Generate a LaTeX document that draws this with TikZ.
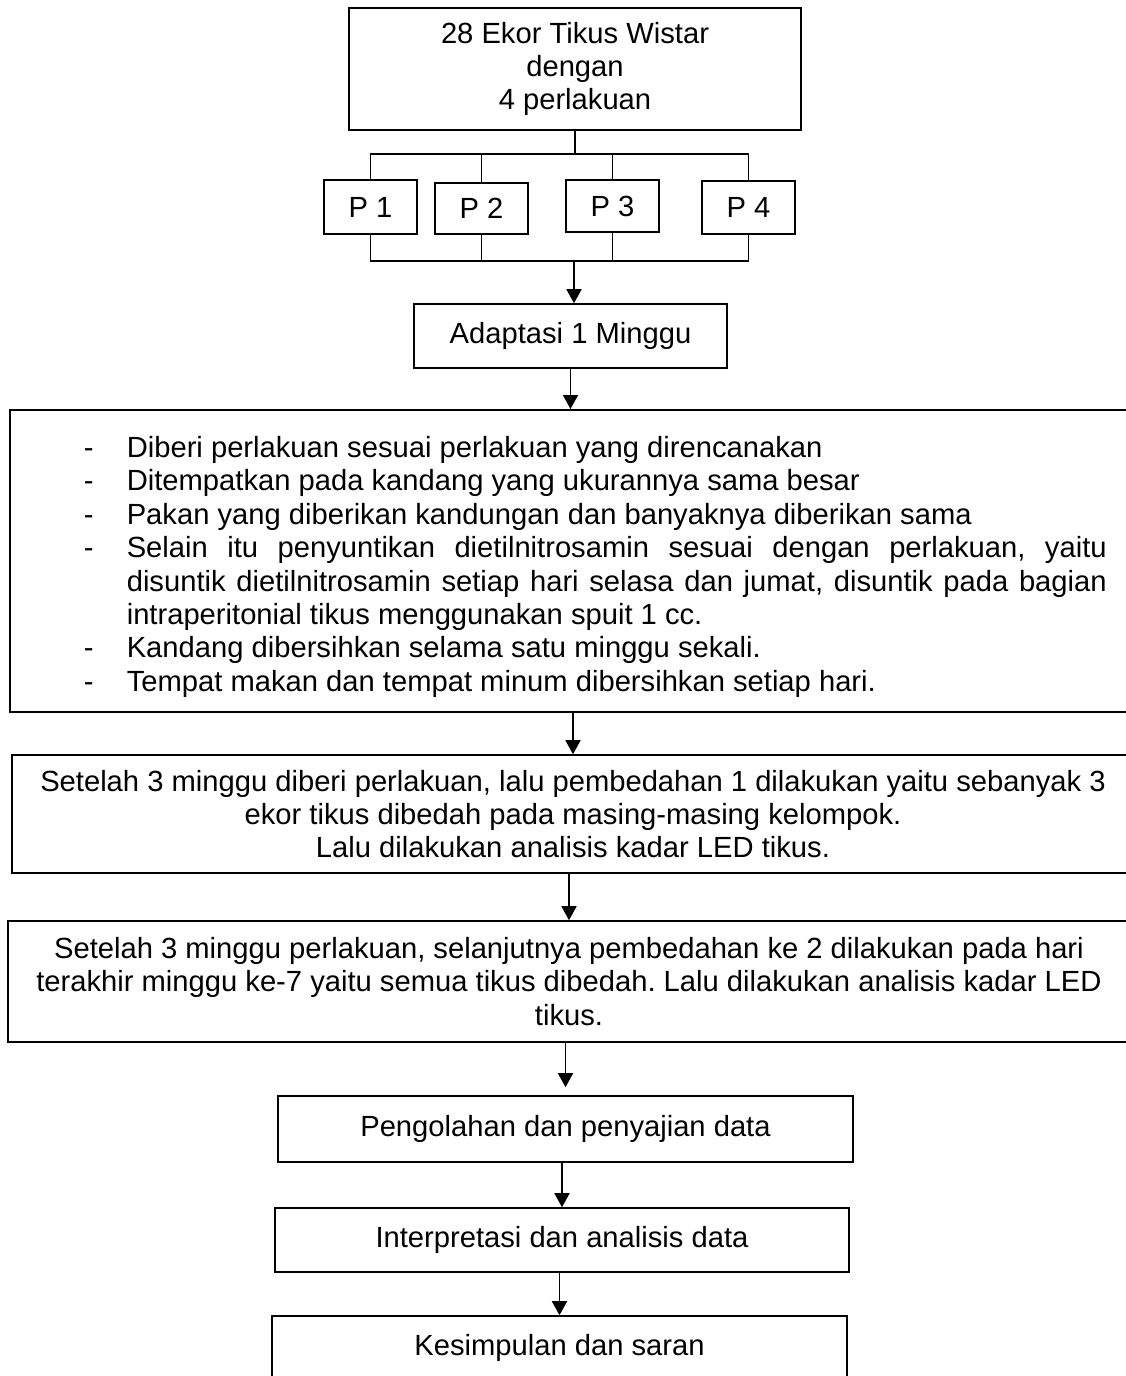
\documentclass[tikz,border=0pt]{standalone}
\usepackage{fontspec}
\setmainfont{Liberation Sans}
\usetikzlibrary{arrows.meta}

\newcommand{\butir}[1]{\par\hangindent=0.43cm\hangafter=1\noindent\makebox[0.43cm][l]{-}#1}

\begin{document}
\frenchspacing
\begin{tikzpicture}[
    kotak/.style={draw, line width=0.45pt, align=center, inner sep=0pt,
      font=\fontsize{8.3pt}{9.5pt}\selectfont\frenchspacing},
    garis/.style={line width=0.45pt},
    panah/.style={line width=0.45pt, -{Triangle[length=0.14cm,width=0.15cm]}}
  ]
  \useasboundingbox (0,0) rectangle (11.26,-13.76);

  % atas
  \node[kotak, minimum width=4.52cm, minimum height=1.22cm] (tikus) at (5.75,-0.69)
    {28 Ekor Tikus Wistar\\dengan\\4 perlakuan};

  % perlakuan
  \node[kotak, minimum width=0.93cm, minimum height=0.54cm] (p1) at (3.705,-2.07) {P 1};
  \node[kotak, minimum width=0.93cm, minimum height=0.51cm] (p2) at (4.815,-2.085) {P 2};
  \node[kotak, minimum width=0.93cm, minimum height=0.52cm] (p3) at (6.125,-2.06) {P 3};
  \node[kotak, minimum width=0.93cm, minimum height=0.53cm] (p4) at (7.485,-2.075) {P 4};

  \coordinate (bagi) at (5.74,-1.54);
  \coordinate (gabung) at (5.74,-2.61);

  \draw[garis] (tikus.south) -- (tikus.south |- bagi);
  \draw[garis] (p1.north) |- (bagi) -| (p4.north);
  \draw[garis] (p2.north) -- (p2.north |- bagi);
  \draw[garis] (p3.north) -- (p3.north |- bagi);
  \draw[garis] (p1.south) |- (gabung) -| (p4.south);
  \draw[garis] (p2.south) -- (p2.south |- gabung);
  \draw[garis] (p3.south) -- (p3.south |- gabung);

  % adaptasi
  \node[kotak, minimum width=3.13cm, minimum height=0.64cm] (adapt) at (5.705,-3.36)
    {Adaptasi 1 Minggu};
  \draw[panah] (gabung) -- (gabung |- adapt.north);

  % perlakuan harian
  \node[kotak, anchor=north west, align=justify, text width=10.23cm, inner xsep=0.74cm,
    minimum height=3.02cm] (rawat) at (0.09,-4.09) {%
    \butir{Diberi perlakuan sesuai perlakuan yang direncanakan}
    \butir{Ditempatkan pada kandang yang ukurannya sama besar}
    \butir{Pakan yang diberikan kandungan dan banyaknya diberikan sama}
    \butir{Selain itu penyuntikan dietilnitrosamin sesuai dengan perlakuan, yaitu\linebreak
      disuntik dietilnitrosamin setiap hari selasa dan jumat, disuntik pada bagian\linebreak
      intraperitonial tikus menggunakan spuit 1 cc.}
    \butir{Kandang dibersihkan selama satu minggu sekali.}
    \butir{Tempat makan dan tempat minum dibersihkan setiap hari.}\par};
  \draw[panah] (adapt.south) -- (adapt.south |- rawat.north);

  % pembedahan 1
  \node[kotak, minimum width=11.22cm, minimum height=1.18cm] (bedah1) at (5.73,-8.14)
    {Setelah 3 minggu diberi perlakuan, lalu pembedahan 1 dilakukan yaitu sebanyak 3\\
     ekor tikus dibedah pada masing-masing kelompok.\\
     Lalu dilakukan analisis kadar LED tikus.};
  \draw[panah] (bedah1.north |- rawat.south) -- (bedah1.north);

  % pembedahan 2
  \node[kotak, minimum width=11.22cm, minimum height=1.21cm] (bedah2) at (5.69,-9.815)
    {Setelah 3 minggu perlakuan, selanjutnya pembedahan ke 2 dilakukan pada hari\\
     terakhir minggu ke-7 yaitu semua tikus dibedah. Lalu dilakukan analisis kadar LED\\
     tikus.};
  \draw[panah] (bedah2.north |- bedah1.south) -- (bedah2.north);

  % akhir
  \node[kotak, minimum width=5.75cm, minimum height=0.66cm] (olah) at (5.655,-11.29)
    {Pengolahan dan penyajian data};
  \node[kotak, minimum width=5.74cm, minimum height=0.64cm] (tafsir) at (5.62,-12.40)
    {Interpretasi dan analisis data};
  \node[kotak, minimum width=5.75cm, minimum height=0.64cm] (simpul) at (5.595,-13.48)
    {Kesimpulan dan saran};

  \draw[panah, shorten >=0.08cm] (olah.north |- bedah2.south) -- (olah.north);
  \draw[panah] (tafsir.north |- olah.south) -- (tafsir.north);
  \draw[panah] (simpul.north |- tafsir.south) -- (simpul.north);
\end{tikzpicture}
\end{document}
